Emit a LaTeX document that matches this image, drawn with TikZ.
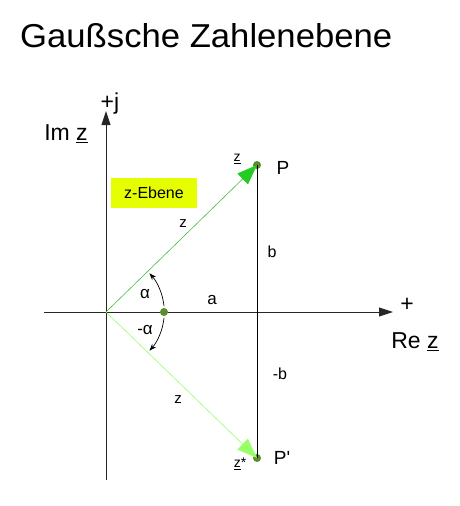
\documentclass[tikz,border=0pt]{standalone}
\usepackage{fontspec}
\setmainfont{Liberation Sans}
\usetikzlibrary{arrows.meta}
\definecolor{vecgreen}{HTML}{22CC22}
\definecolor{vecline}{HTML}{44BB44}
\definecolor{lightvec}{HTML}{99FF66}
\definecolor{dotgreen}{HTML}{5B8C2E}
\definecolor{ebene}{HTML}{E6FF00}
\tikzset{
  lbl/.style={inner sep=0pt, font=\fontsize{16}{18}\selectfont},
  smalllbl/.style={inner sep=0pt, font=\fontsize{14}{16}\selectfont},
  biglbl/.style={inner sep=0pt, font=\fontsize{23}{26}\selectfont},
  plbl/.style={inner sep=0pt, font=\fontsize{19}{22}\selectfont},
  axis/.style={draw=black!85, line width=0.9pt, -{Triangle[length=14pt,width=9pt]}},
  ptdot/.style={circle, fill=dotgreen, inner sep=0pt, minimum size=8pt},
}
\begin{document}
\begin{tikzpicture}[x=1pt,y=-1pt]
\useasboundingbox (0,0) rectangle (460,506);
\node[anchor=north west, inner sep=0pt] (title) at (20,23) {\resizebox{372pt}{24pt}{Gaußsche Zahlenebene}};
% axes
\coordinate (O) at (106,312);
\coordinate (ybot) at (106,480);
\coordinate (ytop) at (106,111);
\coordinate (xl) at (44,312);
\coordinate (xr) at (393,312);
\draw[axis] (ybot) -- (ytop);
\draw[axis] (xl) -- (xr);
% points
\node[ptdot] (P) at (257,165) {};
\node[ptdot] (Pp) at (257,458) {};
\node[ptdot] (A) at (164,312) {};
\draw[black, line width=0.9pt] (P.center) -- (Pp.center);
% vectors
\draw[vecline, line width=0.6pt, -{Triangle[length=20pt,width=15pt,fill=vecgreen,color=vecgreen]}] (O) -- (P.center);
\draw[lightvec, line width=0.6pt, -{Triangle[length=20pt,width=15pt]}] (O) -- (Pp.center);
% angle arcs
\draw[black, line width=0.7pt, -{Stealth[length=7pt,width=5pt]}] (164,306) arc[start angle=-6, end angle=-42, radius=58];
\draw[black, line width=0.7pt, -{Stealth[length=7pt,width=5pt]}] (164,318) arc[start angle=6, end angle=42, radius=58];
% box
\node[fill=ebene, minimum width=86pt, minimum height=30pt, inner sep=0pt, font=\fontsize{16}{18}\selectfont] (eb) at (154,193) {z-Ebene};
% labels
\node[biglbl] (pj) at (110,104) {+j};
\node[biglbl] (imz) at (66,134) {Im \underline{z}};
\node[plbl] (Plbl) at (283,168) {P};
\node[plbl] (Pplbl) at (282,458) {P\textquotesingle};
\node[smalllbl] (zt) at (237,159) {\underline{z}};
\node[lbl, font=\fontsize{15}{17}\selectfont] (z1) at (183,224) {z};
\node[lbl] (b) at (272,252) {b};
\node[lbl, font=\fontsize{17}{19}\selectfont] (alab) at (212,300) {a};
\node[lbl, font=\fontsize{17}{19}\selectfont] (al) at (145,294) {α};
\node[lbl, font=\fontsize{17}{19}\selectfont] (mal) at (145,330) {-α};
\node[lbl] (mb) at (280,374) {-b};
\node[lbl, font=\fontsize{15}{17}\selectfont] (z2) at (178,400) {z};
\node[smalllbl] (zs) at (240,464) {\underline{z}*};
\node[biglbl] (plus) at (407,305) {+};
\node[biglbl] (rez) at (415,342) {Re \underline{z}};
\end{tikzpicture}
\end{document}
